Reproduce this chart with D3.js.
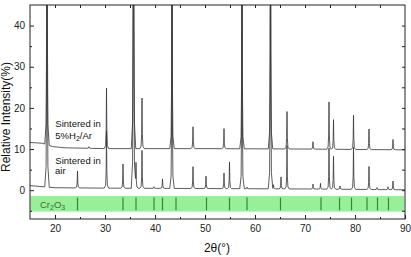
<!DOCTYPE html>
<html>
<head>
<meta charset="utf-8">
<script src="https://d3js.org/d3.v7.min.js"></script>
<style>
  body { margin: 0; background: #fff; }
  text { font-family: "Liberation Sans", Arial, sans-serif; }
</style>
</head>
<body>
<div id="chart"></div>
<script>
// baseline levels [2theta, intensity]
const airBaseline = [[15, 1.1], [17, 0.9], [20, 0.6], [30, 0.5], [50, 0.4], [70, 0.3], [90, 0.1]];
const h2Baseline = [[15, 11.6], [17.5, 11.4], [19.5, 10.6], [22, 10.3], [30, 10.1], [50, 10.1], [70, 10.0], [90, 9.8]];

// peaks [2theta, height above baseline]
const airPeaks = [
  [18.4, 100], [24.5, 4.1], [30.3, 14], [33.6, 5.9], [35.7, 130], [36.2, 6.3], [37.4, 9.2],
  [39.8, 0.4], [41.5, 2.3], [43.4, 60], [47.6, 5.3], [50.2, 3.0], [53.8, 3.8], [54.9, 6.5],
  [57.4, 60], [58.4, 0.4], [63.1, 80], [63.7, 1.0], [65.2, 2.9], [66.4, 10.5], [71.6, 1.2],
  [73.1, 1.4], [74.8, 10], [75.7, 8], [77.0, 0.8], [79.7, 10.2], [82.8, 5.6], [84.4, 0.5],
  [86.6, 0.7], [87.6, 2.1]
];
const h2Peaks = [
  [18.4, 100], [26.8, 0.4], [30.3, 14.7], [35.7, 130], [37.4, 12.3], [43.4, 60], [47.6, 5.3],
  [53.8, 4.9], [57.4, 60], [63.1, 80], [66.4, 9.1], [71.6, 1.8], [74.8, 11.5], [75.7, 7.2],
  [79.7, 8.3], [82.8, 5.0], [87.6, 2.5]
];

// Cr2O3 reference positions
const cr2o3Lines = [24.5, 33.6, 36.2, 39.8, 41.5, 44.2, 50.3, 54.9, 58.4, 65.1, 73.2, 76.9, 79.3, 82.4, 84.5, 86.7];

const xTicks = [20, 30, 40, 50, 60, 70, 80, 90];
const yTicks = [0, 10, 20, 30, 40];

const width = 411, height = 257;
const margin = {top: 5, right: 6, bottom: 38, left: 30};

const svg = d3.select('#chart').append('svg')
  .attr('width', width)
  .attr('height', height);

const x = d3.scaleLinear().domain([15, 90]).range([margin.left, width - margin.right]);
const y = d3.scaleLinear().domain([-7, 45]).range([height - margin.bottom, margin.top]);

svg.append('defs').append('clipPath').attr('id', 'plotClip')
  .append('rect')
  .attr('x', x(15)).attr('y', y(45))
  .attr('width', x(90) - x(15)).attr('height', y(-7) - y(45));

// Cr2O3 band
const band = svg.append('g');
band.append('rect')
  .attr('x', x(15.1)).attr('y', y(-1.4))
  .attr('width', x(89.8) - x(15.1))
  .attr('height', y(-5.2) - y(-1.4))
  .attr('fill', '#97f097');

band.selectAll('line').data(cr2o3Lines).enter().append('line')
  .attr('x1', d => x(d)).attr('x2', d => x(d))
  .attr('y1', y(-1.8)).attr('y2', y(-4.9))
  .attr('stroke', '#2f8a35')
  .attr('stroke-width', 1.2);

const crLabel = band.append('text')
  .attr('x', x(17)).attr('y', 207.5)
  .attr('font-size', '9.5px')
  .attr('fill', '#3d6b3d');
crLabel.append('tspan').text('Cr');
crLabel.append('tspan').attr('font-size', '7px').attr('dy', 2).text('2');
crLabel.append('tspan').attr('dy', -2).text('O');
crLabel.append('tspan').attr('font-size', '7px').attr('dy', 2).text('3');

// peak shape: piecewise linear kernel [offset, fraction]
const kernel = [[0, 1], [0.07, 0.3], [0.18, 0.05], [0.45, 0]];
const kern = d3.scaleLinear().domain(kernel.map(k => k[0])).range(kernel.map(k => k[1])).clamp(true);

function buildTrace(baseline, peaks) {
  const base = d3.scaleLinear().domain(baseline.map(b => b[0])).range(baseline.map(b => b[1]));
  let xs = baseline.map(b => b[0]);
  peaks.forEach(p => {
    kernel.forEach(k => {
      xs.push(p[0] - k[0]);
      if (k[0] > 0) xs.push(p[0] + k[0]);
    });
  });
  xs = Array.from(new Set(xs)).filter(v => v >= 15 && v <= 90).sort((a, b) => a - b);
  return xs.map(v => [v, base(v) + d3.sum(peaks, p => p[1] * kern(Math.abs(v - p[0])))]);
}

const line = d3.line().x(d => x(d[0])).y(d => y(d[1]));

const traces = svg.append('g').attr('clip-path', 'url(#plotClip)');
[buildTrace(airBaseline, airPeaks), buildTrace(h2Baseline, h2Peaks)].forEach(t => {
  traces.append('path')
    .datum(t)
    .attr('d', line)
    .attr('fill', 'none')
    .attr('stroke', '#333')
    .attr('stroke-width', 0.8)
    .attr('stroke-linejoin', 'round');
});

// labels on the traces
function label(tx, ty, txt) {
  return svg.append('text').attr('x', tx).attr('y', ty)
    .attr('font-size', '9.5px').attr('fill', '#111').text(txt);
}
label(55.3, 126.7, 'Sintered in');
const h2Label = label(55.3, 138.5, '5%H');
h2Label.append('tspan').attr('font-size', '7px').attr('dy', 2).text('2');
h2Label.append('tspan').attr('dy', -2).text('/Ar');
label(55.3, 164, 'Sintered in');
label(55, 174, 'air');

// axes
svg.append('g')
  .attr('transform', `translate(0,${y(-7)})`)
  .call(d3.axisBottom(x).tickValues(xTicks).tickSizeInner(-4).tickSizeOuter(0).tickPadding(6));
svg.append('g')
  .attr('transform', `translate(0,${y(-7)})`)
  .call(d3.axisBottom(x).tickValues([25, 35, 45, 55, 65, 75, 85]).tickSizeInner(-2).tickSizeOuter(0).tickFormat(''));
svg.append('g')
  .attr('transform', `translate(0,${y(45)})`)
  .call(d3.axisTop(x).tickValues(d3.range(20, 90, 5)).tickSizeInner(-3).tickSizeOuter(0).tickFormat(''));

svg.append('g')
  .attr('transform', `translate(${x(15)},0)`)
  .call(d3.axisLeft(y).tickValues(yTicks).tickSizeInner(-4).tickSizeOuter(0).tickPadding(5));
svg.append('g')
  .attr('transform', `translate(${x(15)},0)`)
  .call(d3.axisLeft(y).tickValues([-5, 5, 15, 25, 35]).tickSizeInner(-2).tickSizeOuter(0).tickFormat(''));
svg.append('g')
  .attr('transform', `translate(${x(90)},0)`)
  .call(d3.axisRight(y).tickValues(d3.range(-5, 45, 5)).tickSizeInner(-3).tickSizeOuter(0).tickFormat(''));

svg.selectAll('.domain').remove();
svg.selectAll('.tick line').attr('stroke', '#222');
svg.selectAll('.tick text')
  .attr('font-size', '10px')
  .attr('font-family', '"Liberation Sans", Arial, sans-serif')
  .attr('fill', '#222');

svg.append('rect')
  .attr('x', x(15)).attr('y', y(45))
  .attr('width', x(90) - x(15)).attr('height', y(-7) - y(45))
  .attr('fill', 'none')
  .attr('stroke', '#222')
  .attr('stroke-width', 1);

// axis titles
svg.append('text')
  .attr('x', 217).attr('y', 251.5)
  .attr('text-anchor', 'middle')
  .attr('font-size', '12px')
  .attr('fill', '#111')
  .text('2θ(°)');

svg.append('text')
  .attr('transform', 'translate(10,117) rotate(-90)')
  .attr('text-anchor', 'middle')
  .attr('font-size', '12px')
  .attr('fill', '#111')
  .text('Relative Intensity(%)');
</script>
</body>
</html>
